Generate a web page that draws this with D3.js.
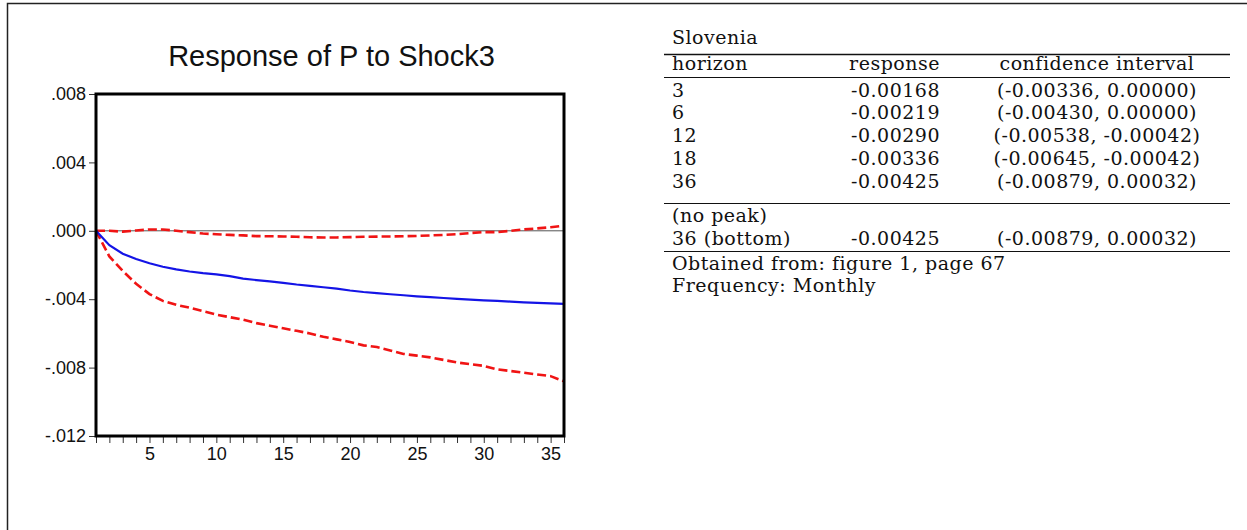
<!DOCTYPE html>
<html>
<head>
<meta charset="utf-8">
<script src="https://cdn.jsdelivr.net/npm/d3@7"></script>
<style>
  html, body { margin: 0; padding: 0; background: #fff; }
  svg { display: block; }
</style>
</head>
<body>
<svg id="chart" width="1247" height="530"></svg>
<script>
"use strict";

// impulse response, horizons 1..36
var horizons = d3.range(1, 37);
var response = [
	0, -0.00084, -0.00134, -0.00165, -0.00190, -0.00210, -0.00226, -0.00238, -0.00248, -0.00255,
	-0.00265, -0.00280, -0.00288, -0.00296, -0.00304, -0.00314, -0.00322, -0.00330, -0.00338, -0.00349,
	-0.00358, -0.00365, -0.00371, -0.00377, -0.00383, -0.00388, -0.00393, -0.00398, -0.00403, -0.00407,
	-0.00410, -0.00414, -0.00418, -0.00421, -0.00424, -0.00427
];
var lowerBand = [
	0, -0.00150, -0.00235, -0.00310, -0.00370, -0.00410, -0.00433, -0.00450, -0.00470, -0.00490,
	-0.00505, -0.00520, -0.00540, -0.00555, -0.00570, -0.00585, -0.00600, -0.00620, -0.00635, -0.00650,
	-0.00670, -0.00680, -0.00700, -0.00720, -0.00730, -0.00740, -0.00755, -0.00770, -0.00780, -0.00790,
	-0.00810, -0.00820, -0.00830, -0.00840, -0.00850, -0.00880
];
var upperBand = [
	0, 0, -0.00005, 0.00002, 0.00008, 0.00008, 0, -0.00008, -0.00016, -0.00020,
	-0.00024, -0.00027, -0.00031, -0.00032, -0.00033, -0.00035, -0.00038, -0.00039, -0.00039, -0.00037,
	-0.00035, -0.00034, -0.00033, -0.00032, -0.00030, -0.00027, -0.00024, -0.00020, -0.00013, -0.00008,
	-0.00008, 0, 0.00008, 0.00014, 0.00021, 0.00030
];
var yTicks = [0.008, 0.004, 0, -0.004, -0.008, -0.012];
var xLabelTicks = [5, 10, 15, 20, 25, 30, 35];

// summary table
var country = "Slovenia";
var tableHeader = ["horizon", "response", "confidence interval"];
var tableHorizons = ["3", "6", "12", "18", "36"];
var tableResponse = ["-0.00168", "-0.00219", "-0.00290", "-0.00336", "-0.00425"];
var tableCI = ["(-0.00336, 0.00000)", "(-0.00430, 0.00000)", "(-0.00538, -0.00042)",
	"(-0.00645, -0.00042)", "(-0.00879, 0.00032)"];
var peakLabel = "(no peak)";
var bottomRow = ["36 (bottom)", "-0.00425", "(-0.00879, 0.00032)"];
var notes = ["Obtained from: figure 1, page 67", "Frequency: Monthly"];

var svg = d3.select("#chart");

// page border (top + left)
svg.append("path")
	.attr("d", "M7.5,530 V3.5 H1247")
	.attr("fill", "none")
	.attr("stroke", "#222")
	.attr("stroke-width", 1.5);

// ---- chart ----
var plot = { left: 96, right: 564, top: 94, bottom: 436 };

var x = d3.scaleLinear()
	.domain([1, 36])
	.range([plot.left, plot.right]);

var y = d3.scaleLinear()
	.domain([-0.012, 0.008])
	.range([plot.bottom, plot.top]);

var sans = "'Liberation Sans', Arial, sans-serif";

svg.append("text")
	.attr("x", 331.5)
	.attr("y", 66)
	.attr("text-anchor", "middle")
	.style("font-family", sans)
	.style("font-size", "29px")
	.attr("fill", "#111")
	.text("Response of P to Shock3");

// y axis, EViews style labels (.004, -.008)
var yAxis = d3.axisLeft(y)
	.tickValues(yTicks)
	.tickSize(6)
	.tickPadding(3)
	.tickFormat(function(d) {
		var s = Math.abs(d).toFixed(3).replace("0.", ".");
		return d < 0 ? "-" + s : s;
	});

var yG = svg.append("g")
	.attr("transform", "translate(" + (plot.left - 1) + ",0)")
	.call(yAxis);
yG.select(".domain").remove();
yG.selectAll("text")
	.style("font-family", sans)
	.style("font-size", "18px")
	.attr("fill", "#111");
yG.selectAll("line").attr("stroke", "#333");

// x axis: a tick at every horizon, labels every 5
var xAxis = d3.axisBottom(x)
	.tickValues(horizons)
	.tickSize(6)
	.tickPadding(4)
	.tickFormat(function(d) {
		return xLabelTicks.indexOf(d) >= 0 ? d : "";
	});

var xG = svg.append("g")
	.attr("transform", "translate(0," + (plot.bottom + 1) + ")")
	.call(xAxis);
xG.select(".domain").remove();
xG.selectAll("text")
	.style("font-family", sans)
	.style("font-size", "18px")
	.attr("fill", "#111");
xG.selectAll("line").attr("stroke", "#333");

// zero line
svg.append("line")
	.attr("x1", plot.left)
	.attr("x2", plot.right)
	.attr("y1", y(0))
	.attr("y2", y(0))
	.attr("stroke", "#555")
	.attr("stroke-width", 1);

var line = d3.line()
	.x(function(d, i) { return x(horizons[i]); })
	.y(function(d) { return y(d); });

[upperBand, lowerBand].forEach(function(band) {
	svg.append("path")
		.datum(band)
		.attr("d", line)
		.attr("fill", "none")
		.attr("stroke", "#f01414")
		.attr("stroke-width", 2.6)
		.attr("stroke-dasharray", "9,4");
});

svg.append("path")
	.datum(response)
	.attr("d", line)
	.attr("fill", "none")
	.attr("stroke", "#1414e6")
	.attr("stroke-width", 2.2);

// frame
svg.append("rect")
	.attr("x", plot.left)
	.attr("y", plot.top)
	.attr("width", plot.right - plot.left)
	.attr("height", plot.bottom - plot.top)
	.attr("fill", "none")
	.attr("stroke", "#000")
	.attr("stroke-width", 3);

// ---- table ----
var serif = "'DejaVu Serif', serif";
var col1 = 672, col2 = 940, col3 = 1097;
var ruleLeft = 664, ruleRight = 1230;
var tbl = svg.append("g")
	.style("font-family", serif)
	.style("font-size", "19px")
	.style("letter-spacing", "0.5px")
	.attr("fill", "#111");

function rule(yy, w) {
	tbl.append("line")
		.attr("x1", ruleLeft)
		.attr("x2", ruleRight)
		.attr("y1", yy)
		.attr("y2", yy)
		.attr("stroke", "#111")
		.attr("stroke-width", w);
}

function row(cells, yy) {
	var anchors = ["start", "end", "middle"],
		xs = [col1, col2, col3];
	cells.forEach(function(c, i) {
		if (c == null) return;
		tbl.append("text")
			.attr("x", xs[i])
			.attr("y", yy)
			.attr("text-anchor", anchors[i])
			.text(c);
	});
}

tbl.append("text").attr("x", col1).attr("y", 44).text(country);
rule(54.5, 1.5);
row(tableHeader, 70);
rule(77.5, 1.2);
var rowStep = 22.8;
tableHorizons.forEach(function(h, i) {
	row([h, tableResponse[i], tableCI[i]], 96.5 + i * rowStep);
});
rule(203.5, 1.2);
row([peakLabel], 222);
row(bottomRow, 244.5);
rule(251.5, 1.2);
notes.forEach(function(n, i) {
	tbl.append("text").attr("x", col1).attr("y", 270 + i * 22).text(n);
});
</script>
</body>
</html>
